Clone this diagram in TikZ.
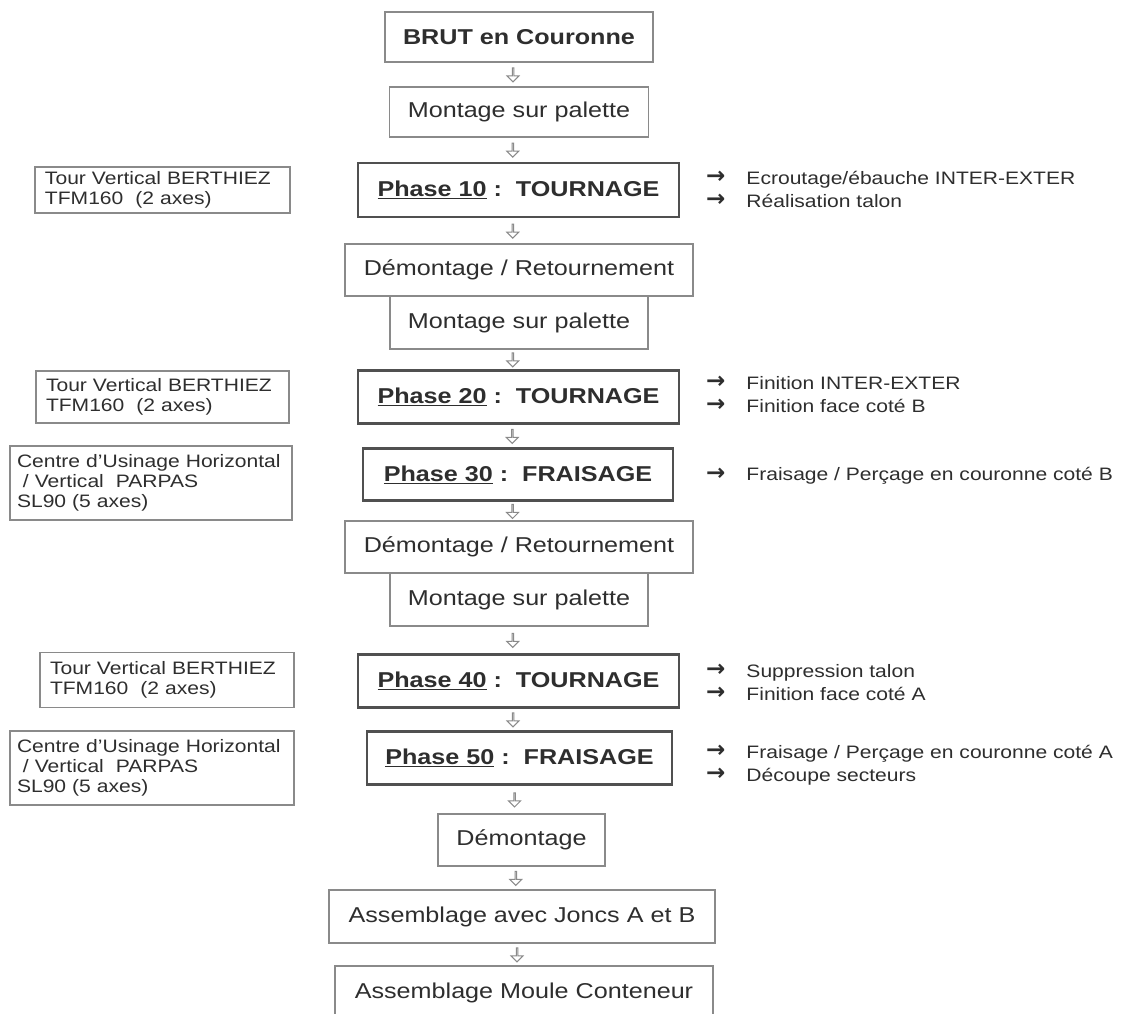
\documentclass[tikz,border=0pt]{standalone}
\usepackage{fontspec}
\setmainfont{Liberation Sans}[FakeStretch=1.17]
\newfontfamily\arrowfont{DejaVu Sans}
\usetikzlibrary{shapes.arrows}
\definecolor{txt}{HTML}{2E2E2E}
\definecolor{bord}{HTML}{8A8A8A}
\definecolor{pbord}{HTML}{505050}
\tikzset{
  box/.style={draw=bord, line width=1.3pt, text=txt, inner sep=0pt,
    font=\fontsize{21.5}{24}\selectfont},
  phasebox/.style={box, draw=pbord, line width=2.6pt, font=\fontsize{21.5}{24}\selectfont\bfseries},
  machine/.style={draw=bord, line width=1.3pt, text=txt, align=left,
    inner ysep=0pt, font=\fontsize{18}{20}\selectfont},
  note/.style={text=txt, align=left, anchor=west, inner sep=0pt,
    font=\fontsize{18}{23}\selectfont},
  harrow/.style={single arrow, draw=bord, line width=1pt, fill=white,
    shape border rotate=270, minimum height=14pt, minimum width=12pt,
    single arrow head extend=3.5pt, single arrow tip angle=90, inner sep=0pt, xshift=-6pt}
}
\newcommand{\ph}[2]{\underline{Phase #1}\ :\ \ #2}
\newcommand{\arw}{\raisebox{0.5pt}{\arrowfont\bfseries\fontsize{23}{20}\selectfont →}}
\newcommand{\notes}[2]{\begin{tabular}{@{}l@{\hspace{21pt}}l@{}}\arw&#1\\\arw&#2\end{tabular}}
\begin{document}
\begin{tikzpicture}[x=1pt,y=1pt]
\useasboundingbox[fill=white] (0,0) rectangle (1128,-1014);
% main column
\node[box, font=\fontsize{21.5}{24}\selectfont\bfseries, minimum width=268pt, minimum height=50pt] (b1) at (519,-37) {BRUT en Couronne};
\node[box, minimum width=259pt, minimum height=50pt] (b2) at (519,-112) {Montage sur palette};
\node[phasebox, minimum width=321pt, minimum height=54pt] (b3) at (518.5,-190) {\ph{10}{TOURNAGE}};
\node[box, minimum width=348pt, minimum height=52pt] (b4) at (519,-270) {Démontage / Retournement};
\node[box, minimum width=258pt, minimum height=53pt] (b5) at (519,-322.5) {Montage sur palette};
\node[phasebox, minimum width=321pt, minimum height=53pt] (b6) at (518.5,-397) {\ph{20}{TOURNAGE}};
\node[phasebox, minimum width=310pt, minimum height=52pt] (b7) at (518,-474.5) {\ph{30}{FRAISAGE}};
\node[box, minimum width=348pt, minimum height=52pt] (b8) at (519,-547) {Démontage / Retournement};
\node[box, minimum width=258pt, minimum height=53pt] (b9) at (519,-599.5) {Montage sur palette};
\node[phasebox, minimum width=321pt, minimum height=53pt] (b10) at (518.5,-681) {\ph{40}{TOURNAGE}};
\node[phasebox, minimum width=305pt, minimum height=53pt] (b11) at (519.5,-758) {\ph{50}{FRAISAGE}};
\node[box, minimum width=167pt, minimum height=52pt] (b12) at (521.5,-840) {Démontage};
\node[box, minimum width=386pt, minimum height=53pt] (b13) at (522,-916.5) {Assemblage avec Joncs A et B};
\node[box, minimum width=378pt, minimum height=54pt] (b14) at (524,-993) {Assemblage Moule Conteneur};
% hollow arrows
\foreach \a/\b in {b1/b2,b2/b3,b3/b4,b5/b6,b6/b7,b7/b8,b9/b10,b10/b11,b11/b12,b12/b13,b13/b14}
  \path (\a.south) -- node[harrow]{} (\b.north);
% machines
\node[machine, text width=235pt, inner xsep=10pt, minimum height=46pt] (m1) at (162.5,-190) {Tour Vertical BERTHIEZ\\TFM160\ \ (2 axes)};
\node[machine, text width=233pt, inner xsep=10pt, minimum height=52pt] (m2) at (162.5,-397) {Tour Vertical BERTHIEZ\\TFM160\ \ (2 axes)};
\node[machine, text width=268pt, inner xsep=7pt, minimum height=74pt] (m3) at (151,-483) {Centre d'Usinage Horizontal\\\ / Vertical\ \ PARPAS\\SL90 (5 axes)};
\node[machine, text width=234pt, inner xsep=10pt, minimum height=55pt] (m4) at (167,-680) {Tour Vertical BERTHIEZ\\TFM160\ \ (2 axes)};
\node[machine, text width=270pt, inner xsep=7pt, minimum height=74pt] (m5) at (152,-768) {Centre d'Usinage Horizontal\\\ / Vertical\ \ PARPAS\\SL90 (5 axes)};
% operations
\node[note] (r1) at (706,-191) {\notes{Ecroutage/ébauche INTER-EXTER}{Réalisation talon}};
\node[note] (r2) at (706,-396) {\notes{Finition INTER-EXTER}{Finition face coté B}};
\node[note] (r3) at (706,-476) {\begin{tabular}{@{}l@{\hspace{21pt}}l@{}}\arw&Fraisage / Perçage en couronne coté B\end{tabular}};
\node[note] (r4) at (706,-684) {\notes{Suppression talon}{Finition face coté A}};
\node[note] (r5) at (706,-765) {\notes{Fraisage / Perçage en couronne coté A}{Découpe secteurs}};
\end{tikzpicture}
\end{document}
